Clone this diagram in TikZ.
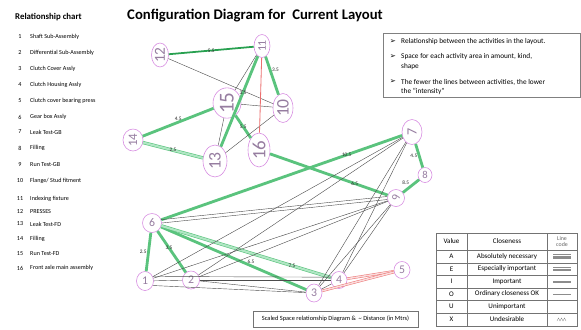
\documentclass[tikz,border=0pt]{standalone}
\usepackage{fontspec}
\setmainfont{Carlito}
\newfontfamily\dejavu{DejaVu Sans}
\usetikzlibrary{shapes.geometric}
\definecolor{relgreen}{RGB}{90,195,125}
\definecolor{relpale}{RGB}{175,230,195}
\definecolor{reldark}{RGB}{40,160,80}
\definecolor{relred}{RGB}{235,110,110}
\definecolor{nodeline}{RGB}{215,140,225}
\definecolor{numgray}{RGB}{150,125,160}
\newcommand{\rnum}[1]{\rotatebox{90}{#1}}
\newcommand{\pxsize}[1]{\fontsize{#1}{#1}\selectfont}
\tikzset{
  act/.style 2 args={ellipse, draw=nodeline, line width=0.5pt, fill=white, inner sep=0pt,
    minimum width=#1*0.85pt, minimum height=#2*0.85pt, text=numgray},
  relA/.style={draw=relgreen, line width=2.4pt},
  relE/.style={draw=relgreen, line width=0.5pt, double=relpale, double distance=1.8pt},
  relI/.style={draw=reldark, line width=1.5pt},
  relO/.style={draw=black!70, line width=0.35pt},
  relX/.style={draw=relred, line width=0.4pt, double=relred!25, double distance=1.3pt},
  relXs/.style={draw=relred, line width=0.7pt},
  lbl/.style={font=\pxsize{4.5}, text=black!85, inner sep=0.5pt},
  chartitem/.style={anchor=west, font=\pxsize{5.2}, inner sep=0pt},
  note/.style={anchor=west, font=\pxsize{6.2}, inner sep=0pt},
  tabline/.style={draw=black!55, line width=0.5pt},
  tabtext/.style={font=\pxsize{6}, inner sep=0pt},
  codeline/.style={draw=black!45, line width=0.3pt}
}
\begin{document}
\begin{tikzpicture}[x=0.85pt, y=-0.85pt]
\useasboundingbox (0,0) rectangle (581,329);
% Headings
\node[font=\pxsize{12.5}\bfseries, anchor=west, inner sep=0pt] (title) at (127,16) {Configuration Diagram for\ \ Current Layout};
\node[font=\pxsize{7.5}\bfseries, anchor=west, inner sep=0pt] (charthead) at (15,17) {Relationship chart};
% Activity list
\foreach \i/\y/\t in {1/37/Shaft Sub-Assembly, 2/53/Differential Sub-Assembly, 3/69/Clutch Cover Assly,
  4/85/Clutch Housing Assly, 5/101/Clutch cover bearing press, 6/117/Gear box Assly,
  7/132/Leak Test-GB, 8/148/Filling, 9/165/Run Test-GB, 10/181/{Flange/ Stud fitment},
  11/199/Indexing fixture, 12/212/PRESSES, 13/224/Leak Test-FD, 14/239/Filling,
  15/254/Run Test-FD, 16/268/Front axle main assembly} {
  \node[font=\pxsize{5.2}, inner sep=0pt] (num\i) at (20,\y) {\i};
  \node[chartitem] (item\i) at (30,\y) {\t};
}
% Activities
\node[act={17}{24}] (n12) at (160,55) {\pxsize{13}\rnum{12}};
\node[act={16}{23}] (n11) at (262,46) {\pxsize{10}\rnum{11}};
\node[act={28}{30}] (n15) at (227,103) {\pxsize{18}\rnum{15}};
\node[act={20}{29}] (n10) at (283,108) {\pxsize{15}\rnum{10}};
\node[act={22}{34}] (n16) at (259,150) {\pxsize{16}\rnum{16}};
\node[act={24}{32}] (n13) at (215,161) {\pxsize{15}\rnum{13}};
\node[act={20}{22}] (n14) at (133,140) {\pxsize{11}\rnum{14}};
\node[act={20}{25}] (n7) at (412,132) {\pxsize{12}\rnum{7}};
\node[act={14}{15}] (n8) at (425,175) {\pxsize{9}8};
\node[act={17}{17}] (n9) at (396,198) {\pxsize{10}\rnum{9}};
\node[act={19}{19}] (n6) at (152,223) {\pxsize{10}6};
\node[act={17}{19}] (n1) at (145,281) {\pxsize{10}1};
\node[act={17}{18}] (n2) at (191,280) {\pxsize{10}2};
\node[act={16}{18}] (n3) at (314,293) {\pxsize{10}3};
\node[act={16}{17}] (n4) at (339,280) {\pxsize{10}4};
\node[act={16}{17}] (n5) at (402,270) {\pxsize{10}5};
% Closeness A / E / I
\draw[relI] (n12) -- node[lbl] {5.5} (n11);
\draw[relA] (n11) -- node[lbl, pos=.35, right] {3.5} (n10);
\draw[relA] (n11) -- node[lbl, pos=.4] {3.5} (n13);
\draw[relA] (n15) -- node[lbl] {5.5} (n16);
\draw[relA] (n14) -- node[lbl, above] {4.5} (n15);
\draw[relE] (n14) -- node[lbl] {2.5} (n13);
\draw[relA] (n16) -- node[lbl, pos=.72] {6.5} (n9);
\draw[relA] (n6) -- node[lbl, pos=.77] {10.5} (n7);
\draw[relA] (n7) -- node[lbl, left] {4.5} (n8);
\draw[relA] (n8) -- node[lbl, above left] {8.5} (n9);
\draw[relA] (n6) -- node[lbl, left] {2.5} (n1);
\draw[relA] (n6) -- node[lbl, pos=.4] {3.5} (n2);
\draw[relA] (n6) -- node[lbl, pos=.62, above] {6.5} (n3);
\draw[relE] (n6) -- node[lbl, pos=.77] {7.5} (n4);
% Closeness O
\draw[relO] (n12) -- (n10);
\draw[relO] (n11) -- (n15);
\draw[relO] (n15) -- (n10);
\draw[relO] (n15) -- (n13);
\draw[relO] (n13) -- (n10);
\draw[relO] (n6.20) -- (n9.170);
\draw[relO] (n6.0) -- (n9.190);
\draw[relO] (n1) -- (n7);
\draw[relO] (n1) -- (n9);
\draw[relO] (n2) -- (n7);
\draw[relO] (n2) -- (n9);
\draw[relO] (n3) -- (n7);
\draw[relO] (n3) -- (n9);
\draw[relO] (n4) -- (n7);
\draw[relO] (n4) -- (n9);
\draw[relO] (n1) -- (n2);
\draw[relO] (n1.30) -- (n4.160);
\draw[relO] (n1.-30) -- (n3);
\draw[relO] (n2) -- (n3);
\draw[relO] (n2) -- (n4);
\draw[relO] (n3) -- (n4);
% Closeness X
\draw[relXs] (n11) -- (n16);
\draw[relX] (n4) -- (n5);
\draw[relX] (n3) -- (n5);
% Notes
\draw[draw=black!50, line width=0.6pt] (383,33) rectangle (580,97);
\foreach \y in {42,57,82}
  \node[font=\dejavu\pxsize{6.2}, inner sep=0pt] at (393,\y) {➢};
\node[note] (note1) at (401,42) {Relationship between the activities in the layout.};
\node[note] (note2) at (401,57) {Space for each activity area in amount, kind,};
\node[note] (note2b) at (401,67) {shape};
\node[note] (note3) at (401,82) {The fewer the lines between activities, the lower};
\node[note] (note3b) at (401,91) {the “intensity”};
% Caption
\node[draw=black!55, line width=0.5pt, minimum width=165*0.85pt, minimum height=16*0.85pt,
  font=\pxsize{5.4}, inner sep=1pt] (caption) at (335.5,319) {Scaled Space relationship Diagram \&\ \ \textasciitilde\ Distance (in Mtrs)};
% Closeness table
\draw[tabline] (436,233) rectangle (577,326);
\foreach \y in {250,263,275,288,300,313} \draw[tabline] (436,\y) -- (577,\y);
\foreach \x in {467,547} \draw[tabline] (\x,233) -- (\x,326);
\node[tabtext] (hval) at (451.5,241.5) {Value};
\node[tabtext] (hclose) at (507,241.5) {Closeness};
\node[tabtext, align=center, text=black!60, font=\pxsize{5}] (hcode) at (562,241.5) {Line\\code};
\foreach \v/\c/\y in {A/Absolutely necessary/256.5, E/Especially important/269, I/Important/281.5,
  O/Ordinary closeness OK/294, U/Unimportant/306.5, X/Undesirable/319.5} {
  \node[tabtext] at (451.5,\y) {\v};
  \node[tabtext] at (507,\y) {\c};
}
\foreach \k in {0,...,3} \draw[codeline] (553,254.4+1.4*\k) -- (571,254.4+1.4*\k);
\foreach \k in {0,...,2} \draw[codeline] (553,267.6+1.4*\k) -- (571,267.6+1.4*\k);
\foreach \k in {0,1} \draw[codeline] (553,280.8+1.4*\k) -- (571,280.8+1.4*\k);
\draw[codeline] (553,294) -- (571,294);
\draw[codeline] (557,321) -- (558.5,318) -- (560,321) -- (561.5,318) -- (563,321) -- (564.5,318) -- (566,321);
\end{tikzpicture}
\end{document}
